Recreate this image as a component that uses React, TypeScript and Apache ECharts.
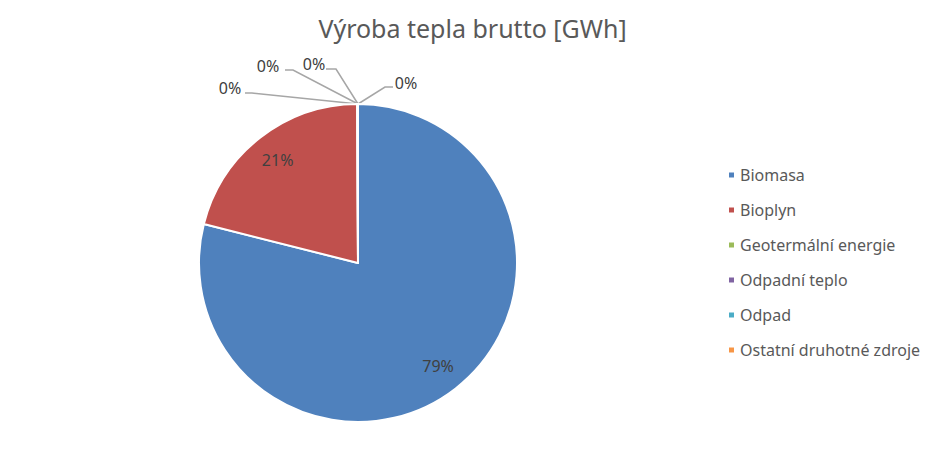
import { useEffect, useRef } from 'react';
import * as echarts from 'echarts';

// Výroba tepla brutto [GWh] (shares 79 % / 21 %, rest ~0 %)
const categories = [
    'Biomasa',
    'Bioplyn',
    'Geotermální energie',
    'Odpadní teplo',
    'Odpad',
    'Ostatní druhotné zdroje',
];
const values = [1912.4, 508.3, 0.6, 0.4, 0.5, 0.3];
const colors = ['#4F81BD', '#C0504D', '#9BBB59', '#8064A2', '#4BACC6', '#F79646'];

// pie geometry
const CX = 358;
const CY = 263;
const R = 159;

// where the "0%" callouts sit, relative to the pie centre: [labelX, labelY, elbowX, elbowY, endX, endY]
const smallLabelOffsets: Record<number, number[]> = {
    2: [-128, -175, -106, -170, -113, -170],
    3: [-90, -197, -65, -193, -73, -193],
    4: [-44, -199, -22, -194, -32, -194],
    5: [48, -180, 27, -176, 35, -176],
};

const total = values.reduce((a, b) => a + b, 0);

const App = () => {
    const chartRef = useRef<HTMLDivElement>(null);

    useEffect(() => {
        if (!chartRef.current) return;
        const chart = echarts.init(chartRef.current, null, { renderer: 'svg' });

        chart.setOption({
            animation: false,
            title: {
                text: 'Výroba tepla brutto [GWh]',
                left: 'center',
                top: 15,
                padding: 0,
                textStyle: {
                    fontFamily: 'Noto Sans',
                    fontSize: 25,
                    fontWeight: 'normal',
                    color: '#595959',
                },
            },
            legend: {
                orient: 'vertical',
                left: 727,
                top: 166,
                padding: 0,
                itemWidth: 7,
                itemHeight: 7,
                itemGap: 17,
                icon: 'rect',
                data: categories,
                textStyle: {
                    fontFamily: 'Noto Sans',
                    fontSize: 16,
                    color: '#595959',
                    lineHeight: 18,
                },
            },
            series: [
                {
                    type: 'pie',
                    center: [CX, CY],
                    radius: R,
                    startAngle: 90,
                    clockwise: true,
                    avoidLabelOverlap: false,
                    itemStyle: { borderColor: '#fff', borderWidth: 2 },
                    emphasis: { disabled: true },
                    label: {
                        show: true,
                        fontFamily: 'Noto Sans',
                        fontSize: 16,
                        color: '#404040',
                        formatter: (p: any) => Math.round(p.percent) + '%',
                    },
                    labelLine: {
                        show: true,
                        lineStyle: { color: '#a6a6a6', width: 1.5 },
                    },
                    labelLayout: (p: any) => {
                        const i = p.dataIndex;
                        const off = smallLabelOffsets[i];
                        if (off) {
                            return {
                                x: CX + off[0],
                                y: CY + off[1],
                                align: 'center',
                                verticalAlign: 'middle',
                                labelLinePoints: [
                                    [CX, CY - R],
                                    [CX + off[2], CY + off[3]],
                                    [CX + off[4], CY + off[5]],
                                ],
                            };
                        }
                        // large slices: label inside at 82 % of the radius, on the slice's mid angle
                        const before = values.slice(0, i).reduce((a, b) => a + b, 0);
                        const mid = (before + values[i] / 2) / total;
                        const ang = mid * Math.PI * 2;
                        return {
                            x: CX + 0.82 * R * Math.sin(ang),
                            y: CY - 0.82 * R * Math.cos(ang),
                            align: 'center',
                            verticalAlign: 'middle',
                        };
                    },
                    data: categories.map((name, i) => ({
                        name,
                        value: values[i],
                        itemStyle: { color: colors[i] },
                        labelLine: { show: i > 1 },
                    })),
                },
            ],
        });

        return () => {
            chart.dispose();
        };
    }, []);

    return (
        <div
            ref={chartRef}
            style={{ position: 'absolute', left: 0, top: 0, width: '945px', height: '473px', background: '#fff' }}
        />
    );
};

export default App;
